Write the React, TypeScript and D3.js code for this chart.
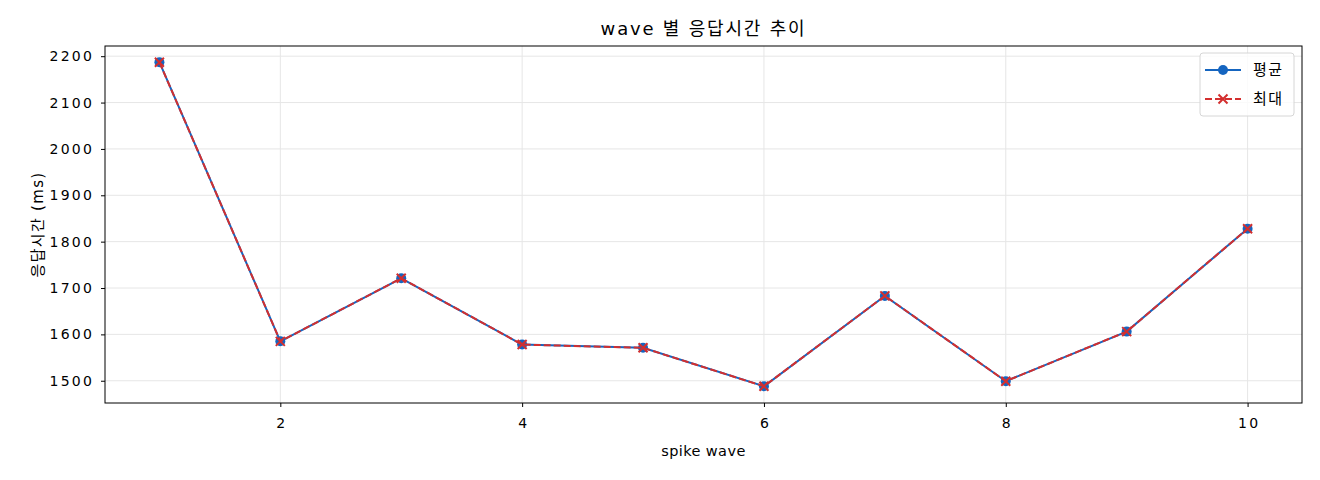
import React, { useEffect, useRef } from 'react';
import * as d3 from 'd3';

const waves = [1, 2, 3, 4, 5, 6, 7, 8, 9, 10];
const avgMs = [2187, 1585, 1721, 1578, 1571, 1488, 1683, 1499, 1606, 1828];
const maxMs = [2187, 1585, 1721, 1578, 1571, 1488, 1683, 1499, 1606, 1828];
const xTicks = [2, 4, 6, 8, 10];
const yTicks = [1500, 1600, 1700, 1800, 1900, 2000, 2100, 2200];
const seriesNames = ['평균', '최대'];

const FONT = '"DejaVu Sans", "Noto Sans CJK KR", sans-serif';
const BLUE = '#1565c0';
const RED = '#d32f2f';

const App = () => {
  const svgRef = useRef<SVGSVGElement>(null);

  useEffect(() => {
    document.body.style.margin = '0';

    const W = 1320;
    const H = 480;
    const margin = { left: 105, right: 18, top: 46, bottom: 77 };
    const width = W - margin.left - margin.right;
    const height = H - margin.top - margin.bottom;

    const svg = d3.select(svgRef.current).attr('width', W).attr('height', H);
    svg.selectAll('*').remove();
    svg.append('rect').attr('width', W).attr('height', H).attr('fill', '#fff');

    const g = svg.append('g').attr('transform', `translate(${margin.left}, ${margin.top})`);

    const x = d3.scaleLinear().domain([0.55, 10.45]).range([0, width]);
    const y = d3.scaleLinear().domain([1452, 2222]).range([height, 0]);

    // grid
    g.selectAll('line.gx')
      .data(xTicks)
      .enter()
      .append('line')
      .attr('class', 'gx')
      .attr('x1', (d) => x(d))
      .attr('x2', (d) => x(d))
      .attr('y1', 0)
      .attr('y2', height)
      .attr('stroke', '#e6e6e6')
      .attr('stroke-width', 1);
    g.selectAll('line.gy')
      .data(yTicks)
      .enter()
      .append('line')
      .attr('class', 'gy')
      .attr('x1', 0)
      .attr('x2', width)
      .attr('y1', (d) => y(d))
      .attr('y2', (d) => y(d))
      .attr('stroke', '#e6e6e6')
      .attr('stroke-width', 1);

    // x-axis
    const xAxis = g
      .append('g')
      .attr('transform', `translate(0, ${height})`)
      .call(d3.axisBottom(x).tickValues(xTicks).tickSize(4).tickPadding(11).tickFormat(d3.format('d')));
    xAxis.select('.domain').remove();
    xAxis.selectAll('text')
      .attr('font-family', FONT)
      .attr('font-size', 14)
      .attr('letter-spacing', 2.2)
      .attr('dx', 1.1)
      .attr('fill', '#000');

    // y-axis
    const yAxis = g
      .append('g')
      .call(d3.axisLeft(y).tickValues(yTicks).tickSize(4).tickPadding(7).tickFormat(d3.format('d')));
    yAxis.select('.domain').remove();
    yAxis.selectAll('text')
      .attr('font-family', FONT)
      .attr('font-size', 14)
      .attr('letter-spacing', 2.2)
      .attr('fill', '#000');

    // frame
    g.append('rect')
      .attr('width', width)
      .attr('height', height)
      .attr('fill', 'none')
      .attr('stroke', '#000')
      .attr('stroke-width', 1);

    const line = d3
      .line<number>()
      .x((_, i) => x(waves[i]))
      .y((d) => y(d));

    // 평균
    g.append('path')
      .datum(avgMs)
      .attr('d', line)
      .attr('fill', 'none')
      .attr('stroke', BLUE)
      .attr('stroke-width', 2);
    g.selectAll('circle.avg')
      .data(avgMs)
      .enter()
      .append('circle')
      .attr('class', 'avg')
      .attr('cx', (_, i) => x(waves[i]))
      .attr('cy', (d) => y(d))
      .attr('r', 5)
      .attr('fill', BLUE);

    // 최대
    g.append('path')
      .datum(maxMs)
      .attr('d', line)
      .attr('fill', 'none')
      .attr('stroke', RED)
      .attr('stroke-width', 2)
      .attr('stroke-dasharray', '7,3');
    const cross = 'M-4.5,-4.5L4.5,4.5M-4.5,4.5L4.5,-4.5';
    g.selectAll('path.max')
      .data(maxMs)
      .enter()
      .append('path')
      .attr('class', 'max')
      .attr('d', cross)
      .attr('transform', (d, i) => `translate(${x(waves[i])}, ${y(d)})`)
      .attr('stroke', RED)
      .attr('stroke-width', 2)
      .attr('fill', 'none');

    // title & labels
    svg.append('text')
      .attr('x', margin.left + width / 2)
      .attr('y', 35)
      .attr('text-anchor', 'middle')
      .attr('font-family', FONT)
      .attr('font-size', 18)
      .attr('letter-spacing', 1.8)
      .attr('fill', '#000')
      .text('wave 별 응답시간 추이');
    svg.append('text')
      .attr('x', margin.left + width / 2)
      .attr('y', 456)
      .attr('text-anchor', 'middle')
      .attr('font-family', FONT)
      .attr('font-size', 14.5)
      .attr('letter-spacing', 0.4)
      .attr('fill', '#000')
      .text('spike wave');
    svg.append('text')
      .attr('transform', `translate(43, ${margin.top + height / 2}) rotate(-90)`)
      .attr('text-anchor', 'middle')
      .attr('font-family', FONT)
      .attr('font-size', 15)
      .attr('letter-spacing', 1.3)
      .attr('fill', '#000')
      .text('응답시간 (ms)');

    // legend
    const lg = svg.append('g').attr('transform', 'translate(1200, 53)');
    lg.append('rect')
      .attr('width', 94)
      .attr('height', 63)
      .attr('rx', 3)
      .attr('fill', '#fff')
      .attr('fill-opacity', 0.8)
      .attr('stroke', '#d6d6d6');
    const rows = lg
      .selectAll('g.row')
      .data(seriesNames)
      .enter()
      .append('g')
      .attr('class', 'row')
      .attr('transform', (_, i) => `translate(0, ${17 + i * 29})`);
    rows.append('line')
      .attr('x1', 5)
      .attr('x2', 41)
      .attr('stroke', (_, i) => (i === 0 ? BLUE : RED))
      .attr('stroke-width', 2)
      .attr('stroke-dasharray', (_, i) => (i === 0 ? null : '7,3'));
    rows.filter((_, i) => i === 0)
      .append('circle')
      .attr('cx', 23)
      .attr('r', 5)
      .attr('fill', BLUE);
    rows.filter((_, i) => i === 1)
      .append('path')
      .attr('d', cross)
      .attr('transform', 'translate(23, 0)')
      .attr('stroke', RED)
      .attr('stroke-width', 2);
    rows.append('text')
      .attr('x', 53)
      .attr('dy', '0.35em')
      .attr('font-family', FONT)
      .attr('font-size', 15)
      .attr('letter-spacing', 1.5)
      .attr('fill', '#000')
      .text((d) => d);
  }, []);

  return (
    <div className="line-chart">
      <svg ref={svgRef}></svg>
    </div>
  );
};

export default App;
